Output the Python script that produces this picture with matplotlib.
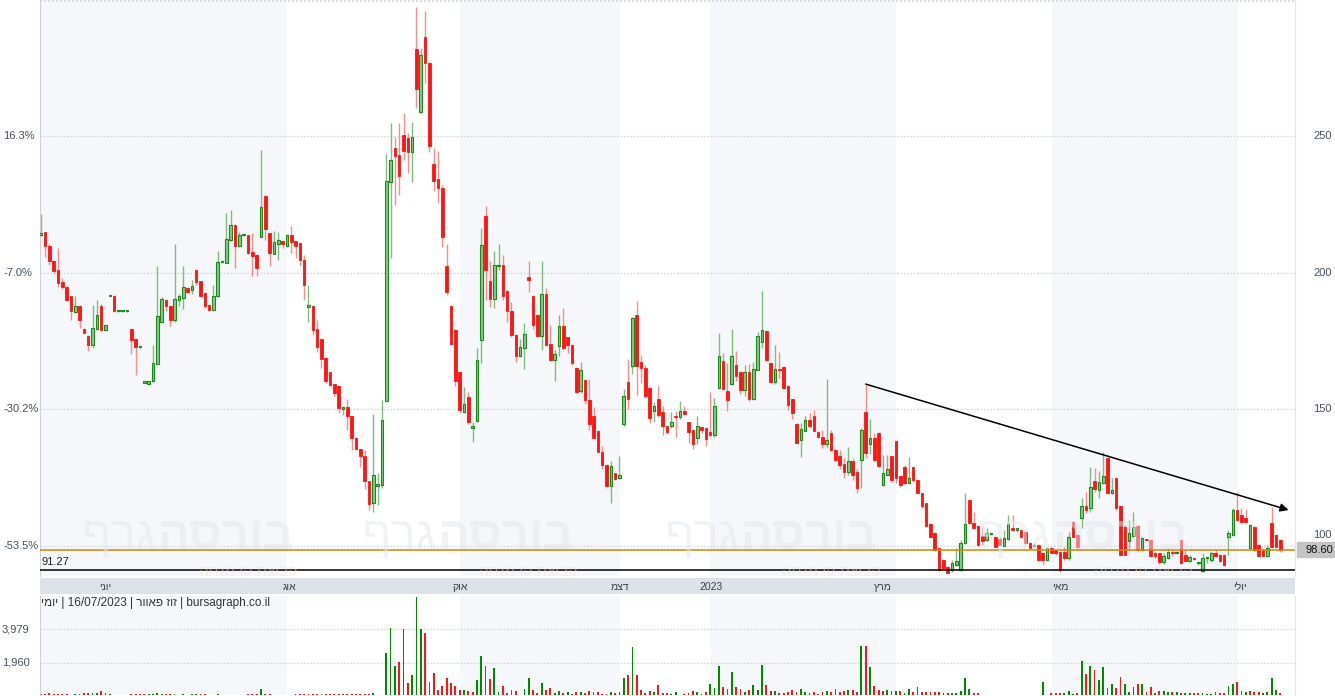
import matplotlib
matplotlib.use("Agg")
import matplotlib.pyplot as plt
from matplotlib.patches import Rectangle
import numpy as np

# ---------------- data ----------------
opens = [213.8,214.8,209.9,204.4,201.1,196.5,194.8,191.3,185.7,187.9,179.4,176.7,173.6,179.4,187.9,179.1,191.5,191.5,185.9,185.9,
185.9,179.4,175.7,172.6,159.7,159.4,160.2,166.7,181.8,190.1,187.9,182.5,190.1,190.7,194.5,193.8,200.8,196.9,192.6,188.3,
186.2,191.3,203.8,203.7,212.1,217.6,209.6,213.6,213.6,207.5,206.6,213.1,227.9,214.6,207.0,210.6,211.6,209.6,213.6,211.4,
210.9,204.8,187.6,187.9,179.4,175.7,168.8,163.5,159.3,158.4,150.2,150.8,147.4,139.5,135.4,132.7,123.6,115.6,122.0,122.3,
153.1,233.1,245.7,243.0,250.5,249.3,244.0,281.7,258.9,286.3,276.8,239.6,234.1,231.0,202.6,187.9,179.1,163.5,149.0,154.5,
143.3,145.8,175.5,220.6,197.1,190.5,202.5,202.9,193.4,186.1,177.3,169.6,172.3,198.3,191.6,184.6,176.9,192.3,174.0,168.1,
173.0,180.3,176.3,173.6,165.1,156.5,160.8,153.5,147.6,142.1,134.5,129.7,122.0,126.6,124.8,144.6,159.8,165.7,184.6,167.3,
165.1,157.8,149.2,153.8,149.0,143.7,143.7,147.6,147.0,149.5,145.3,142.5,139.6,143.5,143.3,141.8,140.7,157.8,167.8,156.8,
159.3,166.3,163.8,157.1,163.5,153.7,164.5,174.5,178.8,166.9,159.8,164.6,165.5,158.6,153.7,144.7,138.8,142.2,145.9,147.6,
141.5,140.0,137.4,141.3,135.2,133.0,130.0,127.0,131.0,127.0,131.5,149.0,137.4,139.5,141.3,122.3,126.0,132.7,138.5,125.4,
129.0,123.0,128.8,124.2,119.3,115.6,108.0,104.7,99.2,94.9,92.4,91.0,93.0,91.2,101.0,116.6,108.3,107.1,103.7,102.2,
104.2,103.4,102.5,100.0,102.5,106.5,105.9,105.9,105.2,101.2,100.0,100.4,97.3,94.9,99.2,98.5,97.9,97.9,95.5,108.9,
104.0,110.2,114.7,113.8,123.9,120.5,123.0,132.1,119.5,124.8,114.4,106.9,101.6,103.7,107.3,98.5,102.2,102.2,97.5,97.3,
93.9,95.5,97.3,97.2,102.2,96.7,94.6,95.2,93.6,90.6,95.4,94.9,97.5,96.7,96.7,103.4,104.0,113.2,111.4,110.1,
99.2,106.9,100.4,98.5,96.1,108.3,104.0,102.2]
highs = [221.6,215.0,210.5,204.6,209.0,198.0,195.0,191.5,191.6,188.0,179.6,177.0,188.3,189.9,188.5,181.0,191.7,191.8,186.1,186.1,
186.1,179.6,176.0,172.8,159.9,160.4,173.6,202.3,191.0,190.4,188.2,210.6,192.0,202.6,194.7,197.4,201.0,197.0,192.8,188.5,
195.6,207.8,204.0,221.9,223.1,217.8,215.0,213.8,213.8,214.6,206.8,244.8,228.6,214.8,215.4,215.0,211.8,214.3,217.2,211.6,
211.1,206.6,195.6,188.1,182.8,175.9,169.0,163.7,159.5,158.6,150.6,153.8,147.6,139.7,135.6,135.2,123.8,148.4,126.6,153.5,
243.6,254.6,249.8,254.6,258.6,251.0,255.3,297.4,282.4,295.6,277.0,245.8,244.7,231.9,210.6,188.1,179.3,163.7,158.2,156.4,
145.4,172.5,216.5,224.5,204.4,208.0,210.6,206.6,193.6,189.4,177.5,175.8,181.7,204.4,191.8,184.8,204.4,194.5,181.0,171.8,
184.6,187.2,176.5,173.8,165.3,167.4,161.0,161.2,150.9,142.3,136.6,129.9,131.1,126.8,133.0,157.5,168.5,183.9,189.7,169.6,
166.3,158.0,152.7,158.6,151.3,143.9,149.1,149.2,153.1,151.3,145.5,142.7,147.6,143.7,143.5,156.4,154.2,178.0,170.7,167.0,
179.5,171.4,164.0,166.3,166.7,167.4,178.4,193.4,179.0,167.1,173.6,170.8,165.7,158.8,153.9,144.9,145.0,147.6,148.7,149.8,
141.9,142.5,161.2,142.5,135.4,135.0,132.0,136.0,132.0,128.0,143.0,159.2,146.4,141.4,141.5,133.3,133.3,132.9,138.7,125.6,
129.6,132.5,129.0,124.4,119.5,115.8,108.2,104.9,99.4,95.1,92.6,94.9,99.2,102.2,119.3,116.8,112.5,107.3,107.0,106.6,
104.5,103.6,103.4,105.9,111.4,111.4,106.6,106.1,105.4,101.4,101.1,100.6,97.5,99.3,99.6,98.7,98.1,99.6,105.2,109.1,
104.5,117.6,119.8,128.9,128.6,127.5,134.5,133.3,124.9,125.0,114.6,107.7,109.5,112.5,107.5,103.4,102.4,102.4,97.7,97.5,
97.3,99.3,98.5,98.1,102.4,98.5,96.7,95.4,93.9,97.4,95.7,97.7,98.5,96.9,96.9,105.9,113.9,119.8,113.9,113.6,
108.0,107.1,100.6,98.7,100.4,114.3,104.2,102.4]
lows = [213.3,205.7,202.9,199.9,194.7,194.0,189.5,182.5,185.2,179.7,178.0,171.2,172.5,179.0,179.0,178.5,191.3,185.5,185.7,185.7,
185.7,170.3,162.6,172.4,159.5,159.2,159.8,166.5,181.5,186.0,180.3,182.0,187.7,186.7,192.6,192.0,195.6,191.0,187.2,186.0,
185.8,191.0,203.6,203.5,211.7,201.7,209.4,213.4,207.0,198.6,198.6,213.0,212.1,202.6,207.0,204.8,209.0,209.5,207.3,205.5,
202.9,190.1,181.8,177.3,171.0,165.2,159.7,158.5,155.0,148.7,148.0,142.5,135.2,135.0,128.9,120.9,113.2,112.5,115.0,121.0,
153.0,205.5,224.9,228.6,241.4,236.6,233.0,260.4,258.5,269.6,244.0,229.7,225.6,209.5,191.9,173.6,158.6,148.7,148.7,144.7,
138.1,145.5,167.0,190.1,187.5,187.2,200.8,189.9,181.8,176.5,167.4,169.0,164.9,192.8,179.5,176.6,171.8,173.0,167.8,160.4,
169.6,172.0,170.7,166.3,156.0,156.0,152.0,142.5,139.0,134.3,128.2,121.6,115.8,124.0,124.4,144.0,150.2,163.0,155.3,159.7,
154.0,145.0,145.4,147.0,140.7,141.0,143.2,139.9,146.5,147.8,137.7,135.5,137.4,141.4,136.6,140.2,139.9,157.5,157.0,149.5,
159.0,160.4,155.7,154.9,153.1,153.4,164.2,172.5,167.8,159.5,159.4,161.5,157.5,149.8,146.5,137.4,132.6,141.9,143.2,141.9,
139.5,135.9,136.3,134.6,131.2,128.0,125.0,126.0,124.0,119.5,121.0,132.0,133.7,131.0,129.0,122.0,125.8,123.5,123.1,121.6,
122.5,122.7,123.5,119.2,114.0,107.0,103.2,98.2,90.8,91.5,90.1,90.5,92.6,90.8,100.5,108.0,106.2,100.0,100.4,101.8,
104.0,99.5,100.2,99.8,102.2,105.3,105.1,103.0,100.8,98.9,99.3,94.5,93.0,94.5,97.3,96.6,90.5,94.9,94.9,103.2,
98.5,106.6,112.1,112.5,119.8,117.6,122.6,119.1,119.0,113.2,96.3,96.5,98.5,103.3,98.2,98.2,102.0,95.9,95.4,93.3,
93.3,95.0,96.2,97.0,93.3,94.4,93.9,94.9,93.0,90.5,93.7,94.2,95.9,94.1,92.7,96.7,103.7,109.2,108.3,108.3,
98.8,98.0,95.9,95.9,95.9,99.5,99.5,97.8]
closes = [214.5,209.6,204.1,200.7,196.2,194.8,189.9,185.8,187.9,182.5,178.0,173.6,179.9,184.6,179.1,180.7,191.5,185.8,185.9,185.9,
185.9,175.5,172.8,172.6,159.7,160.2,167.1,184.0,190.4,187.7,182.5,190.5,191.3,194.8,192.8,195.2,196.5,191.3,187.7,186.2,
191.6,203.8,203.8,212.4,217.6,209.6,213.7,213.6,207.2,206.2,201.8,224.1,216.0,207.2,211.1,211.8,210.3,213.7,211.1,209.6,
204.8,195.4,188.0,179.1,172.6,168.4,160.2,159.0,155.9,150.4,150.4,147.4,139.5,135.4,132.7,123.6,115.4,126.0,122.4,146.2,
233.4,241.1,242.6,235.5,244.4,244.0,249.6,267.3,279.6,276.8,246.3,233.7,231.0,213.1,192.8,173.9,160.5,149.6,151.9,145.4,
143.7,167.9,210.0,200.8,190.5,202.7,202.9,191.6,185.8,177.0,169.6,172.8,177.7,197.2,181.0,176.9,192.3,173.6,168.1,170.3,
180.3,172.4,173.4,166.9,156.2,164.5,153.5,144.6,139.3,134.5,129.7,122.0,129.1,124.4,126.0,154.7,153.7,183.4,165.7,165.1,
154.7,146.8,151.0,148.0,144.0,141.5,145.2,147.1,149.5,148.2,141.5,137.4,143.7,142.5,139.1,140.4,151.0,169.3,157.4,153.2,
169.6,162.0,157.1,163.8,153.7,164.7,176.7,178.9,168.1,159.8,164.7,164.4,157.8,151.6,148.6,137.8,142.7,145.9,143.7,142.2,
139.8,137.4,138.6,134.9,131.5,129.5,127.0,131.0,126.0,121.0,142.5,134.0,139.5,131.5,129.3,126.8,128.1,124.2,124.8,122.3,
123.0,124.8,124.2,119.5,114.4,107.3,103.4,98.5,91.2,91.8,90.2,93.7,94.5,101.2,108.0,108.3,106.5,100.4,101.6,104.7,
104.3,99.7,100.4,102.8,108.1,105.9,105.9,103.4,101.0,99.2,100.0,94.9,94.9,99.2,97.5,97.3,91.2,95.5,103.4,103.4,
99.5,114.7,113.2,121.7,120.8,123.2,125.4,119.3,120.5,113.8,96.7,96.7,104.7,106.9,98.5,102.8,102.1,96.1,96.3,93.9,
96.1,97.9,97.2,97.9,93.7,94.6,95.9,95.1,93.7,95.5,95.5,97.3,96.1,94.3,93.0,104.7,113.2,109.5,108.9,108.9,
107.7,98.5,96.1,96.1,99.2,99.7,99.7,98.6]
volumes = [80,80,140,60,60,60,60,30,60,60,140,120,120,100,245,140,60,30,30,20,
10,60,60,60,60,60,80,120,60,60,60,80,30,60,30,60,60,60,60,30,
30,60,30,30,30,30,30,30,60,80,60,390,80,60,30,30,30,30,30,60,
80,80,80,80,80,60,80,80,80,60,80,60,80,60,60,60,80,140,30,30,
2530,4060,1775,2020,3980,735,1225,5920,3980,3775,795,1345,306,550,1060,
735,550,306,306,
245,184,918,2345,1733,980,1610,184,550,100,306,245,30,350,1060,306,120,735,306,430,
140,245,140,184,80,184,184,100,245,184,184,80,80,184,140,184,1060,1225,2895,1225,
306,140,245,184,610,100,100,40,184,30,80,140,245,184,60,184,690,450,1733,490,
390,1365,490,350,184,285,590,306,1836,610,245,245,140,140,184,306,184,390,184,140,
184,80,184,245,184,390,184,245,306,306,184,3000,2940,1670,550,306,245,285,245,245,
245,100,350,184,510,184,184,184,184,184,100,100,100,140,245,1060,350,100,100,30,
30,20,20,20,20,30,20,30,30,30,30,20,20,775,30,100,140,140,100,245,
80,140,2080,1265,1775,1510,918,1670,450,650,450,1120,650,184,510,650,650,184,510,100,
245,245,184,184,184,100,100,100,100,100,100,40,80,184,100,100,550,650,795,245,
184,245,184,184,100,184,1060,306,140]

price_ticks = [250, 200, 150, 100]
pct_labels = ["16.3%", "-7.0%", "-30.2%", "-53.5%"]
vol_ticks = [3979, 1960]
vol_labels = ["3,979", "1,960"]
month_labels = ["יוני", "אוג", "אוק", "דצמ", "2023", "מרץ", "מאי", "יולי"]
month_pos = [14.9, 57.6, 97.1, 134.1, 155.2, 195.0, 236.0, 277.6]
# alternate shaded two-month periods (candle index of period boundaries)
shade_periods = [(-1.0, 57.0), (97.0, 134.1), (154.9, 198.0), (234.1, 277.1)]
last_price = 98.60
support_level = 91.27
trend_start = (191, 159.2)
trend_end = (288.9, 113.1)
footer = ("יומי", "16/07/2023", "זוז פאוור", "bursagraph.co.il")

# ---------------- figure ----------------
W, H = 1335, 696
plt.rcParams['font.family'] = ['Liberation Sans', 'DejaVu Sans']
fig = plt.figure(figsize=(W / 100, H / 100), dpi=100)
fig.patch.set_facecolor('white')

def fx(px):
    return px / W

def fy(py):
    return 1 - py / H

def heb(s):
    # visual order for right-to-left text
    return s[::-1]

L, R = 40, 1295
ax = fig.add_axes([fx(L), fy(576), fx(R) - fx(L), fy(0) - fy(576)])
axd = fig.add_axes([fx(L), fy(594), fx(R) - fx(L), fy(578) - fy(594)])
axv = fig.add_axes([fx(L), fy(695), fx(R) - fx(L), fy(596) - fy(695)])

n = len(closes)
x = np.arange(n)
o = np.array(opens); h = np.array(highs); lo = np.array(lows); c = np.array(closes)
xl = (-0.16, 290.4)

GRID = '#d3d8de'
BAND = '#f5f7fa'
TXT = '#46505e'

for a in (ax, axv):
    a.set_xlim(*xl)
    for s0, s1 in shade_periods:
        a.axvspan(s0, s1, color=BAND, lw=0, zorder=0)
    a.set_xticks([]); a.set_yticks([])
    for sp in ('top', 'bottom'):
        a.spines[sp].set_visible(False)
    a.spines['left'].set_color('#cdd2d8')
    a.spines['right'].set_color('#e1e5ea')

ax.set_ylim(88.95, 299.8)
for p in price_ticks:
    ax.axhline(p, color=GRID, lw=1, ls=(0, (1.2, 1.2)), zorder=0.8)
ax.axhline(299.5, color=GRID, lw=1.2, ls=(0, (1.2, 1.2)), zorder=0.8)

# watermark
for x0 in [157, 437, 740, 1052]:
    fig.text(fx(x0), fy(537), heb("גרף"), ha='right', va='center', fontsize=34,
             color='#e3e8ed', alpha=0.5, zorder=0.5)
    fig.text(fx(x0), fy(537), heb("בורסה"), ha='left', va='center', fontsize=34,
             fontweight='bold', color='#e3e8ed', alpha=0.5, zorder=0.5)
    fig.text(fx(x0 + 140), fy(572), heb("קבוצת קו מנחה"), ha='right', va='center',
             fontsize=11, color='#f4e2d6', alpha=0.5, zorder=0.5)

# candles
up = c >= o
wick_col = np.where(up, '#7dbd7d', '#ff8a8a')
ax.vlines(x, lo, h, colors=wick_col, lw=1, zorder=2)
body_bot = np.minimum(o, c)
body_h = np.maximum(np.abs(c - o), 0.45)
ax.bar(x[up], body_h[up], bottom=body_bot[up], width=0.6, color='#8cc68c',
       edgecolor='#1a8a1a', lw=0.8, zorder=3)
ax.bar(x[~up], body_h[~up], bottom=body_bot[~up], width=0.6, color='#ff1414',
       edgecolor='#ff1414', lw=0.6, zorder=3)

# levels
ax.axhline(last_price, color='#d98200', lw=1.1, zorder=4)
ax.axhline(support_level, color='black', lw=1.1, zorder=4)
ax.text(0.3, support_level + 0.9, f"{support_level:.2f}", fontsize=8, color='#222',
        ha='left', va='bottom', zorder=5)

# trend line
ax.annotate('', xy=trend_end, xytext=trend_start,
            arrowprops=dict(arrowstyle='-|>', color='black', lw=1.1,
                            mutation_scale=12, shrinkA=0, shrinkB=0), zorder=5)

# left percent labels / right price labels
yb = ax.transData.transform((0, last_price))[1] / fig.bbox.height
for p, lab in zip(price_ticks, pct_labels):
    yy = ax.transData.transform((0, p))[1] / fig.bbox.height
    fig.text(fx(3), yy, lab, fontsize=8, color=TXT, ha='left', va='center')
    yr = yy
    if abs(yy - yb) * H < 14:
        yr = yb + 14.5 / H   # keep the price label just clear of the last-price box
    fig.text(fx(1332), yr, str(p), fontsize=8, color=TXT, ha='right', va='center')

# last price box
fig.patches.append(Rectangle((fx(1297), yb - 7.5 / H), fx(1335) - fx(1297), 15 / H,
                             transform=fig.transFigure, color='#c4c4c4', zorder=6))
fig.text(fx(1333), yb, f"{last_price:.2f}", fontsize=8, color='#111', ha='right',
         va='center', zorder=7)

# date bar
axd.set_xlim(*xl); axd.set_ylim(0, 1)
axd.set_facecolor('#dde2e9')
axd.set_xticks([]); axd.set_yticks([])
for sp in axd.spines.values():
    sp.set_visible(False)
for lab, pos in zip(month_labels, month_pos):
    t = lab if lab.isdigit() else heb(lab)
    axd.text(pos, 0.42, t, fontsize=7.5, color='#3a3f47', ha='center', va='center')

# volume
vcol = ['#008a00' if i == 0 or c[i] >= c[i - 1] else '#ff1414' for i in range(n)]
axv.set_ylim(0, 6000)
for v in vol_ticks:
    axv.axhline(v, color=GRID, lw=1, ls=(0, (1.2, 1.2)), zorder=0.8)
axv.bar(x, volumes, width=0.42, color=vcol, lw=0, zorder=2)
for v, lab in zip(vol_ticks, vol_labels):
    yy = axv.transData.transform((0, v))[1] / fig.bbox.height
    fig.text(fx(2), yy, lab, fontsize=8, color=TXT, ha='left', va='center')
ftxt = heb(footer[0]) + " | " + footer[1] + " | " + heb(footer[2]) + " | " + footer[3]
fig.text(fx(41), fy(603), ftxt, fontsize=8.5, color='#333', ha='left', va='center')

fig.savefig("out.png", dpi=100, facecolor='white')
